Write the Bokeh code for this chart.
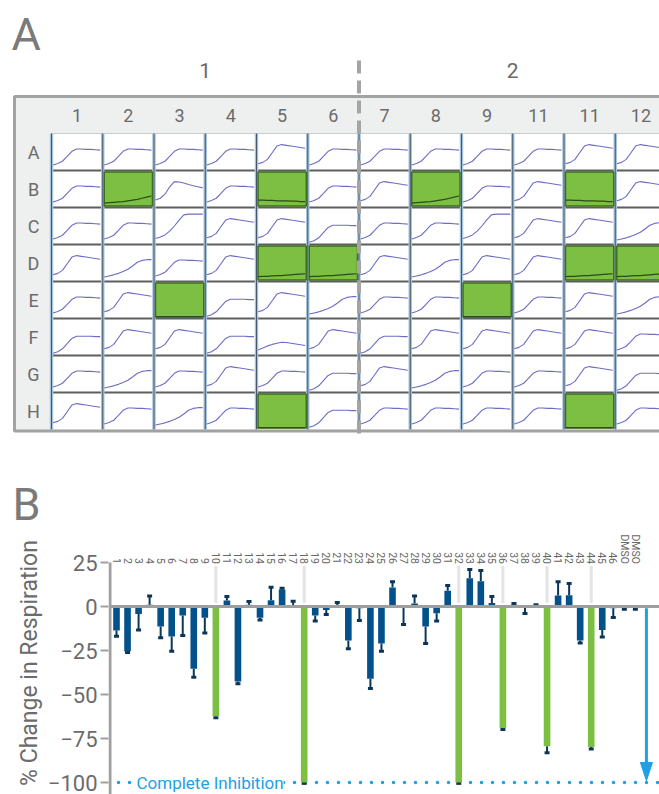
import math
from bokeh.plotting import figure
from bokeh.layouts import column
from bokeh.models import Range1d, FixedTicker, Label
from bokeh.core.properties import value
from bokeh.embed import file_html
from bokeh.resources import INLINE

FONT = "Roboto"

# ---------------- Panel A data ----------------
plate_groups = ["1", "2"]
plate_cols = ["1", "2", "3", "4", "5", "6", "7", "8", "9", "11", "11", "12"]
plate_rows = ["A", "B", "C", "D", "E", "F", "G", "H"]

trace_t = [0.0, 0.1, 0.2, 0.3, 0.4, 0.5, 0.6, 0.7, 0.8, 0.9, 1.0]
trace_plateau = [0.15, 0.19, 0.25, 0.38, 0.52, 0.58, 0.58, 0.57, 0.57, 0.56, 0.55]
trace_peak = [0.18, 0.22, 0.30, 0.48, 0.66, 0.70, 0.68, 0.66, 0.64, 0.62, 0.60]
trace_decline = [0.20, 0.25, 0.36, 0.56, 0.70, 0.69, 0.66, 0.62, 0.59, 0.56, 0.53]
trace_slow = [0.12, 0.15, 0.18, 0.22, 0.27, 0.33, 0.42, 0.52, 0.57, 0.59, 0.59]
trace_high = [0.16, 0.20, 0.26, 0.36, 0.50, 0.66, 0.80, 0.82, 0.82, 0.82, 0.82]
trace_mid = [0.06, 0.10, 0.18, 0.32, 0.46, 0.52, 0.52, 0.52, 0.52, 0.51, 0.51]
trace_low = [0.15, 0.20, 0.26, 0.30, 0.33, 0.36, 0.35, 0.33, 0.31, 0.29, 0.27]
trace_g1 = [0.12, 0.13, 0.14, 0.15, 0.16, 0.18, 0.20, 0.22, 0.25, 0.28, 0.31]
trace_g2 = [0.20, 0.20, 0.19, 0.19, 0.18, 0.18, 0.18, 0.17, 0.17, 0.16, 0.16]
trace_g3 = [0.13, 0.14, 0.14, 0.15, 0.16, 0.16, 0.17, 0.18, 0.19, 0.20, 0.21]
trace_g4 = [0.05, 0.05, 0.05, 0.05, 0.05, 0.05, 0.05, 0.05, 0.05, 0.05, 0.05]
traces = {"P": trace_plateau, "K": trace_peak, "D": trace_decline, "S": trace_slow,
          "H": trace_high, "M": trace_mid, "L": trace_low,
          "g1": trace_g1, "g2": trace_g2, "g3": trace_g3, "g4": trace_g4}

well_codes = [
    "P P P P K P P P P P K K",
    "P g1 D P g2 P K g1 P K g2 K",
    "P P H K K M P P H K K S",
    "K S P K g3 g3 K S K K g3 g3",
    "P K g4 M K S P P g4 P K S",
    "M K K M L K M K K K K P",
    "P S P K P M K S P P K M",
    "K P S P g4 M P P P P g4 P",
]

# ---------------- Panel B data ----------------
compounds = [str(i) for i in range(1, 47)] + ["DMSO", "DMSO"]
resp_change = [-13.6, -25.4, -4.2, 1.0, -11.4, -17.0, -5.1, -35.4, -6.4, -62.3,
               3.4, -42.6, 1.0, -6.4, 3.5, 9.6, 0.0, -100.0, -5.1, -2.0,
               0.0, -19.3, -1.0, -41.0, -21.0, 10.8, 0.0, 1.7, -11.4, -3.8,
               9.0, -100.0, 16.0, 14.4, 2.0, -69.0, 1.0, 0.0, 0.5, -79.4,
               6.2, 6.4, -19.3, -79.9, -13.3, -1.0, -0.5, -0.5]
resp_err_end = [-16.9, -26.1, -13.3, 6.0, -17.8, -25.4, -16.5, -40.2, -15.0, -63.2,
                5.7, -43.9, 2.8, -7.6, 11.0, 10.4, 3.0, -100.5, -8.3, -4.6,
                2.3, -24.0, -8.0, -46.6, -25.4, 14.0, -10.2, 6.0, -21.0, -8.3,
                12.0, -100.5, 21.0, 20.4, 5.7, -69.9, 1.7, -4.0, 1.0, -83.1,
                14.0, 13.0, -20.8, -80.9, -17.4, -6.2, -1.5, -1.5]
hit_compounds = [10, 18, 32, 36, 40, 44]
y_ticks = [25, 0, -25, -50, -75, -100]
complete_inhibition = -100

# ---------------- colours ----------------
GREEN = "#7cbf43"
GREEN_EDGE = "#3f6e25"
BLUE = "#03518b"
NAVY = "#0c3658"
SKY = "#1ea0e6"
GRAY_TXT = "#6b6b6b"
TRACE = "#6d6dc6"

# ---------------- layout constants (pixels) ----------------
W = 659
HA = 531
HB = 263
CX0, CW = 51.0, 51.25     # x of first cell column, cell width
CY0, CH = 133.0, 37.0     # y of first cell row, cell height

def ax(px):
    return (px - CX0) / CW + 0.5

def ay(py):
    return (py - CY0) / CH + 0.5

pa = figure(width=W, height=HA, x_range=Range1d(ax(0), ax(W)),
            y_range=Range1d(ay(HA), ay(0)), output_backend="svg",
            toolbar_location=None, x_axis_location=None, y_axis_location=None,
            min_border=0, outline_line_color=None, background_fill_color="white")
pa.grid.visible = False
pa.frame_align = False

ncol, nrow = len(plate_cols), len(plate_rows)
right_edge = ncol + 1.0
# plate background
pa.quad(left=ax(14), right=right_edge, top=-0.5, bottom=nrow + 0.54,
        fill_color="#eef0f0", line_color=None)
# white cells
cx, cy = [], []
for r in range(nrow):
    for c in range(ncol):
        cx.append(c + 1)
        cy.append(r + 1)
pa.rect(x=cx, y=cy, width=1, height=1, fill_color="white", line_color=None)

# grid lines
pa.multi_line(xs=[[0.5, right_edge]], ys=[[0.5, 0.5]], line_color="#c9cccc", line_width=1)
pa.multi_line(xs=[[0.5, right_edge] for r in range(1, nrow)],
              ys=[[r + 0.5, r + 0.5] for r in range(1, nrow)],
              line_color="#5e5e5e", line_width=2)
vx = [[c + 0.5, c + 0.5] for c in range(ncol + 1)]
vy = [[0.5, nrow + 0.5] for c in range(ncol + 1)]
pa.multi_line(xs=vx, ys=vy, line_color="#a7c3da", line_width=3.5)
pa.multi_line(xs=vx, ys=vy, line_color="#44576b", line_width=1)

# green (inhibited) wells
gx, gy = [], []
for r, row in enumerate(well_codes):
    for c, code in enumerate(row.split()):
        if code.startswith("g"):
            gx.append(c + 1)
            gy.append(r + 1)
pa.rect(x=gx, y=gy, width=1 - 3.0 / CW, height=1 - 3.0 / CH,
        fill_color=GREEN, line_color=GREEN_EDGE, line_width=1.5)

# traces
txs, tys, gtxs, gtys = [], [], [], []
for r, row in enumerate(well_codes):
    for c, code in enumerate(row.split()):
        tr = traces[code]
        xs = [c + 0.5 + 0.03 + t * 0.92 for t in trace_t]
        ys = [r + 1.5 - v for v in tr]
        if code.startswith("g"):
            gtxs.append(xs); gtys.append(ys)
        else:
            txs.append(xs); tys.append(ys)
pa.multi_line(xs=txs, ys=tys, line_color=TRACE, line_width=1.1)
pa.multi_line(xs=gtxs, ys=gtys, line_color="#2c4a1c", line_width=1.2)

# plate border
pa.line(x=[right_edge, ax(14), ax(14), right_edge], y=[-0.5, -0.5, nrow + 0.54, nrow + 0.54],
        line_color="#a2a2a2", line_width=3)

# dashed group separator
pa.line(x=[6.5, 6.5], y=[ay(60), ay(433)], line_color="#a4a4a4", line_width=4,
        line_dash="13 7")

# texts
pa.text(x=[3.5, 9.5], y=[ay(70)] * 2, text=plate_groups, text_font=value(FONT),
        text_font_size="21px", text_color=GRAY_TXT, text_align="center",
        text_baseline="middle")
pa.text(x=list(range(1, ncol + 1)), y=[0.0] * ncol, text=plate_cols,
        text_font=value(FONT), text_font_size="18px", text_color=GRAY_TXT,
        text_align="center", text_baseline="middle")
pa.text(x=[ax(33)] * nrow, y=list(range(1, nrow + 1)), text=plate_rows,
        text_font=value(FONT), text_font_size="18px", text_color=GRAY_TXT,
        text_align="center", text_baseline="middle")
pa.text(x=[ax(11), ax(12)], y=[ay(34), ay(504)], text=["A", "B"],
        text_font=value(FONT), text_font_size="45px", text_color="#7a7a7a",
        text_align="left", text_baseline="middle")

# ---------------- Panel B ----------------
BX0, BDX = 116.0, 11.04   # x of first bar, spacing
BY0, BDY = 606.0, 1.76    # y of zero, px per unit
FRAME_LEFT = 108

def bx(px):
    return 1 + (px - BX0) / BDX

def by(py):
    return (BY0 - py) / BDY

pb = figure(width=W, height=HB, x_range=Range1d(bx(FRAME_LEFT), bx(W)),
            y_range=Range1d(by(HA + HB), by(HA)), output_backend="svg",
            toolbar_location=None, x_axis_location=None, y_axis_location="left",
            min_border_left=FRAME_LEFT, min_border_right=0, min_border_top=0,
            min_border_bottom=0, outline_line_color=None,
            background_fill_color="white")
pb.grid.visible = False
pb.frame_align = False
yax = pb.yaxis[0]
yax.ticker = FixedTicker(ticks=y_ticks)
yax.axis_line_color = None
yax.major_tick_line_color = "#a0a0a0"
yax.major_tick_line_width = 2
yax.major_tick_out = 8
yax.major_tick_in = 0
yax.minor_tick_line_color = None
yax.major_label_standoff = 3
yax.major_label_text_font = FONT
yax.major_label_text_font_size = "22px"
yax.major_label_text_color = GRAY_TXT
yax.axis_label = "% Change in Respiration"
yax.axis_label_text_font = FONT
yax.axis_label_text_font_size = "23px"
yax.axis_label_text_font_style = "normal"
yax.axis_label_text_color = GRAY_TXT
yax.axis_label_standoff = 2

n = len(compounds)
idx = list(range(1, n + 1))
colors = [GREEN if i in hit_compounds else BLUE for i in idx]

# highlight stripes above hits
pb.segment(x0=hit_compounds, x1=hit_compounds, y0=[23] * len(hit_compounds),
           y1=[2] * len(hit_compounds), line_color="#e4e4e4", line_width=3)

# axis line
axis_x = bx(109.5)
pb.segment(x0=[axis_x], x1=[axis_x], y0=[y_ticks[0]], y1=[by(800)],
           line_color="#a0a0a0", line_width=3)

# complete inhibition dotted line
pb.line(x=[bx(118), bx(660)], y=[complete_inhibition] * 2, line_color=SKY,
        line_width=3.5, line_dash="0 11", line_cap="round")

# error bars
pb.segment(x0=idx, x1=idx, y0=resp_change, y1=resp_err_end, line_color=NAVY,
           line_width=2)
pb.rect(x=idx, y=resp_err_end, width=5, height=3, width_units="screen",
        height_units="screen", fill_color=NAVY, line_color=None)
# bars
pb.vbar(x=idx, top=resp_change, bottom=0, width=0.6, fill_color=colors,
        line_color=None)

pb.segment(x0=[axis_x], x1=[bx(660)], y0=[0], y1=[0], line_color="#9e9e9e",
           line_width=3)

# arrow to complete inhibition
arrow_x = n + 1
head_len = 20 / BDY
head_half = 6 / BDX
pb.segment(x0=[arrow_x], x1=[arrow_x], y0=[-1], y1=[complete_inhibition + head_len - 1],
           line_color=SKY, line_width=3)
pb.patch(x=[arrow_x - head_half, arrow_x + head_half, arrow_x],
         y=[complete_inhibition + head_len, complete_inhibition + head_len,
            complete_inhibition + 1.0],
         fill_color=SKY, line_color=SKY)

# category labels
pb.text(x=idx, y=[by(563.5)] * n, text=compounds, text_font=value(FONT),
        text_font_size="10.5px", text_color="#666666", text_align="right",
        text_baseline="middle", angle=-math.pi / 2)

pb.add_layout(Label(x=bx(136), y=complete_inhibition, text="Complete Inhibition",
                    text_font=FONT, text_font_size="17px", text_color=SKY,
                    text_baseline="middle", text_align="left",
                    background_fill_color="white"))

layout = column(pa, pb)
open("out.html", "w").write(file_html(layout, INLINE))
